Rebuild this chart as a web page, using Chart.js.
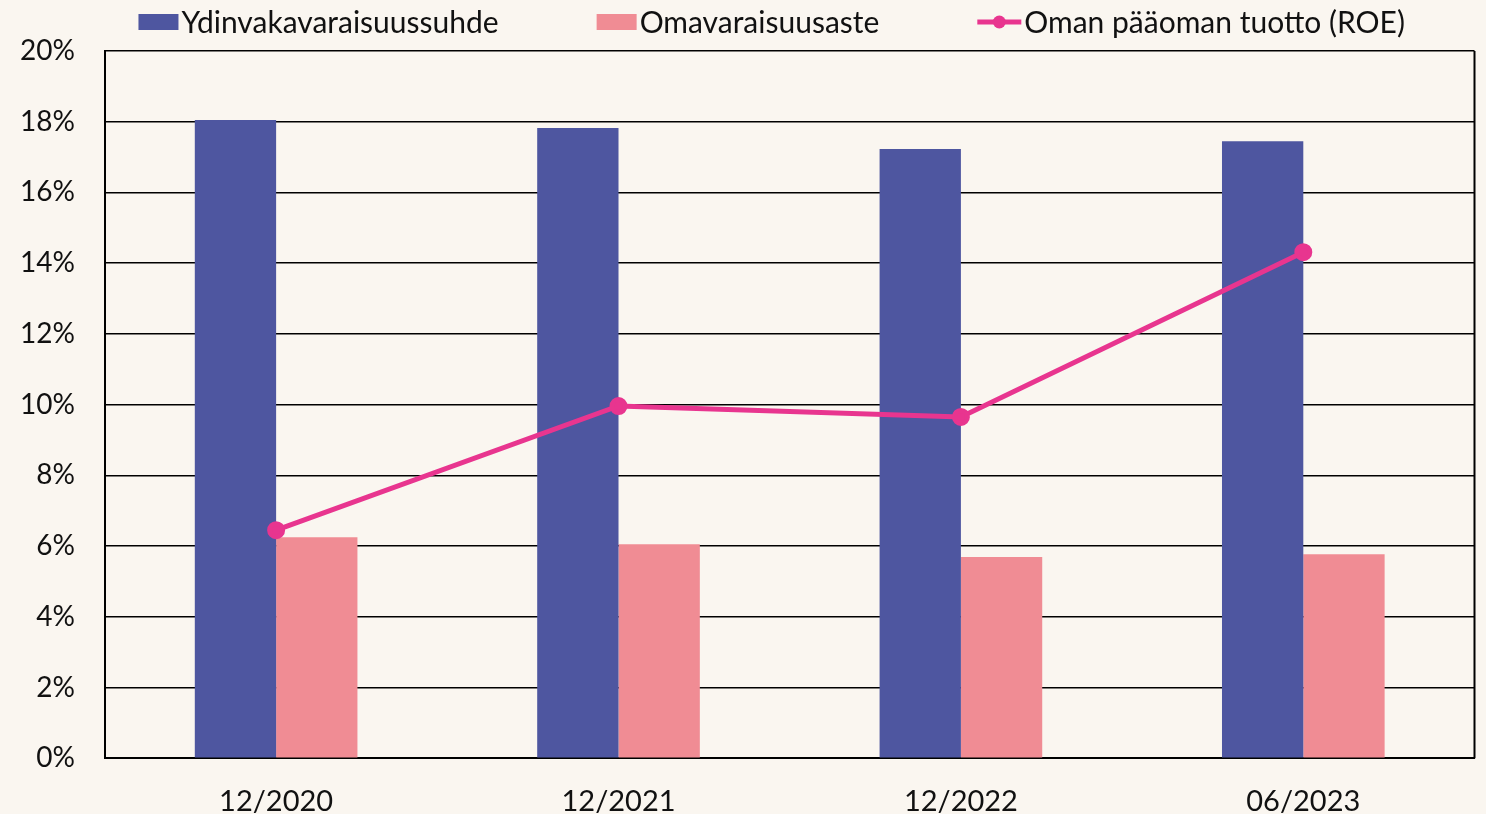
<!DOCTYPE html>
<html>
<head>
<meta charset="utf-8">
<script src="https://cdn.jsdelivr.net/npm/chart.js@4"></script>
<style>
  html, body { margin: 0; padding: 0; background: #faf6f0; overflow: hidden; }
  #wrap { width: 1486px; height: 814px; }
</style>
</head>
<body>
<div id="wrap"><canvas id="chart" width="1486" height="814"></canvas></div>
<script>
// Chart data
const categories = ['12/2020', '12/2021', '12/2022', '06/2023'];
const coreCapitalRatio = [18.05, 17.82, 17.23, 17.45];   // Ydinvakavaraisuussuhde
const equityRatio = [6.25, 6.05, 5.69, 5.77];            // Omavaraisuusaste
const returnOnEquity = [6.45, 9.96, 9.65, 14.31];        // ROE
const yTicks = [0, 2, 4, 6, 8, 10, 12, 14, 16, 18, 20];

const BLUE = '#4e56a0';
const PINK = '#f08c94';
const MAGENTA = '#e8358f';
const FONT = 'Lato, "Open Sans", sans-serif';

// Legend drawn along the top, wide gaps like the original
const topLegend = {
  id: 'topLegend',
  afterDraw(chart) {
    const ctx = chart.ctx;
    const items = [
      { text: 'Ydinvakavaraisuussuhde', color: BLUE, kind: 'bar' },
      { text: 'Omavaraisuusaste', color: PINK, kind: 'bar' },
      { text: 'Oman pääoman tuotto (ROE)', color: MAGENTA, kind: 'line' }
    ];
    const sw = 44, textGap = 3, itemGap = 94, y = 22;
    ctx.save();
    ctx.font = '30px ' + FONT;
    ctx.textBaseline = 'middle';
    const widths = items.map(it => sw + textGap + ctx.measureText(it.text).width);
    const total = widths.reduce((a, b) => a + b, 0) + itemGap * (items.length - 1);
    const area = chart.chartArea;
    let x = (area.left + area.right) / 2 - 18 - total / 2;
    items.forEach((it, i) => {
      ctx.fillStyle = it.color;
      ctx.strokeStyle = it.color;
      if (it.kind === 'bar') {
        ctx.fillRect(x, y - 8, 40, 16);
      } else {
        ctx.lineWidth = 5;
        ctx.beginPath(); ctx.moveTo(x, y); ctx.lineTo(x + sw, y); ctx.stroke();
        ctx.beginPath(); ctx.arc(x + sw / 2, y, 6.5, 0, Math.PI * 2); ctx.fill();
      }
      ctx.fillStyle = '#111';
      ctx.fillText(it.text, x + (it.kind === 'bar' ? 43 : sw + textGap), y + 1);
      x += widths[i] + itemGap;
    });
    ctx.restore();
  }
};

// Right-hand frame line of the plot area
const rightFrame = {
  id: 'rightFrame',
  afterDatasetsDraw(chart) {
    const { ctx, chartArea } = chart;
    ctx.save();
    ctx.strokeStyle = '#000';
    ctx.lineWidth = 2;
    ctx.beginPath();
    ctx.moveTo(chartArea.right, chartArea.top);
    ctx.lineTo(chartArea.right, chartArea.bottom);
    ctx.stroke();
    ctx.restore();
  }
};

new Chart(document.getElementById('chart'), {
  data: {
    labels: categories,
    datasets: [
      {
        type: 'line',
        label: 'Oman pääoman tuotto (ROE)',
        data: returnOnEquity,
        borderColor: MAGENTA,
        backgroundColor: MAGENTA,
        borderWidth: 5,
        pointRadius: 6.5,
        pointHoverRadius: 6.5,
        order: 0
      },
      {
        type: 'bar',
        label: 'Ydinvakavaraisuussuhde',
        data: coreCapitalRatio,
        backgroundColor: BLUE,
        categoryPercentage: 0.475,
        barPercentage: 1,
        order: 1
      },
      {
        type: 'bar',
        label: 'Omavaraisuusaste',
        data: equityRatio,
        backgroundColor: PINK,
        categoryPercentage: 0.475,
        barPercentage: 1,
        order: 1
      }
    ]
  },
  options: {
    responsive: false,
    animation: false,
    layout: { padding: { top: 51, right: 2, left: -10, bottom: -23 } },
    scales: {
      x: {
        grid: { display: false },
        border: { color: '#000', width: 2 },
        ticks: { color: '#111', font: { family: FONT, size: 29 }, padding: 18 },
        afterFit: axis => { axis.paddingRight = 0; }
      },
      y: {
        min: 0,
        max: 20,
        afterBuildTicks: axis => { axis.ticks = yTicks.map(v => ({ value: v })); },
        grid: { color: '#000', lineWidth: 1.5, drawTicks: false },
        border: { color: '#000', width: 2 },
        ticks: { color: '#111', font: { family: FONT, size: 28 }, padding: 30, callback: v => v + '%' }
      }
    },
    plugins: {
      tooltip: { enabled: false },
      legend: { display: false }
    }
  },
  plugins: [topLegend, rightFrame]
});
</script>
</body>
</html>
